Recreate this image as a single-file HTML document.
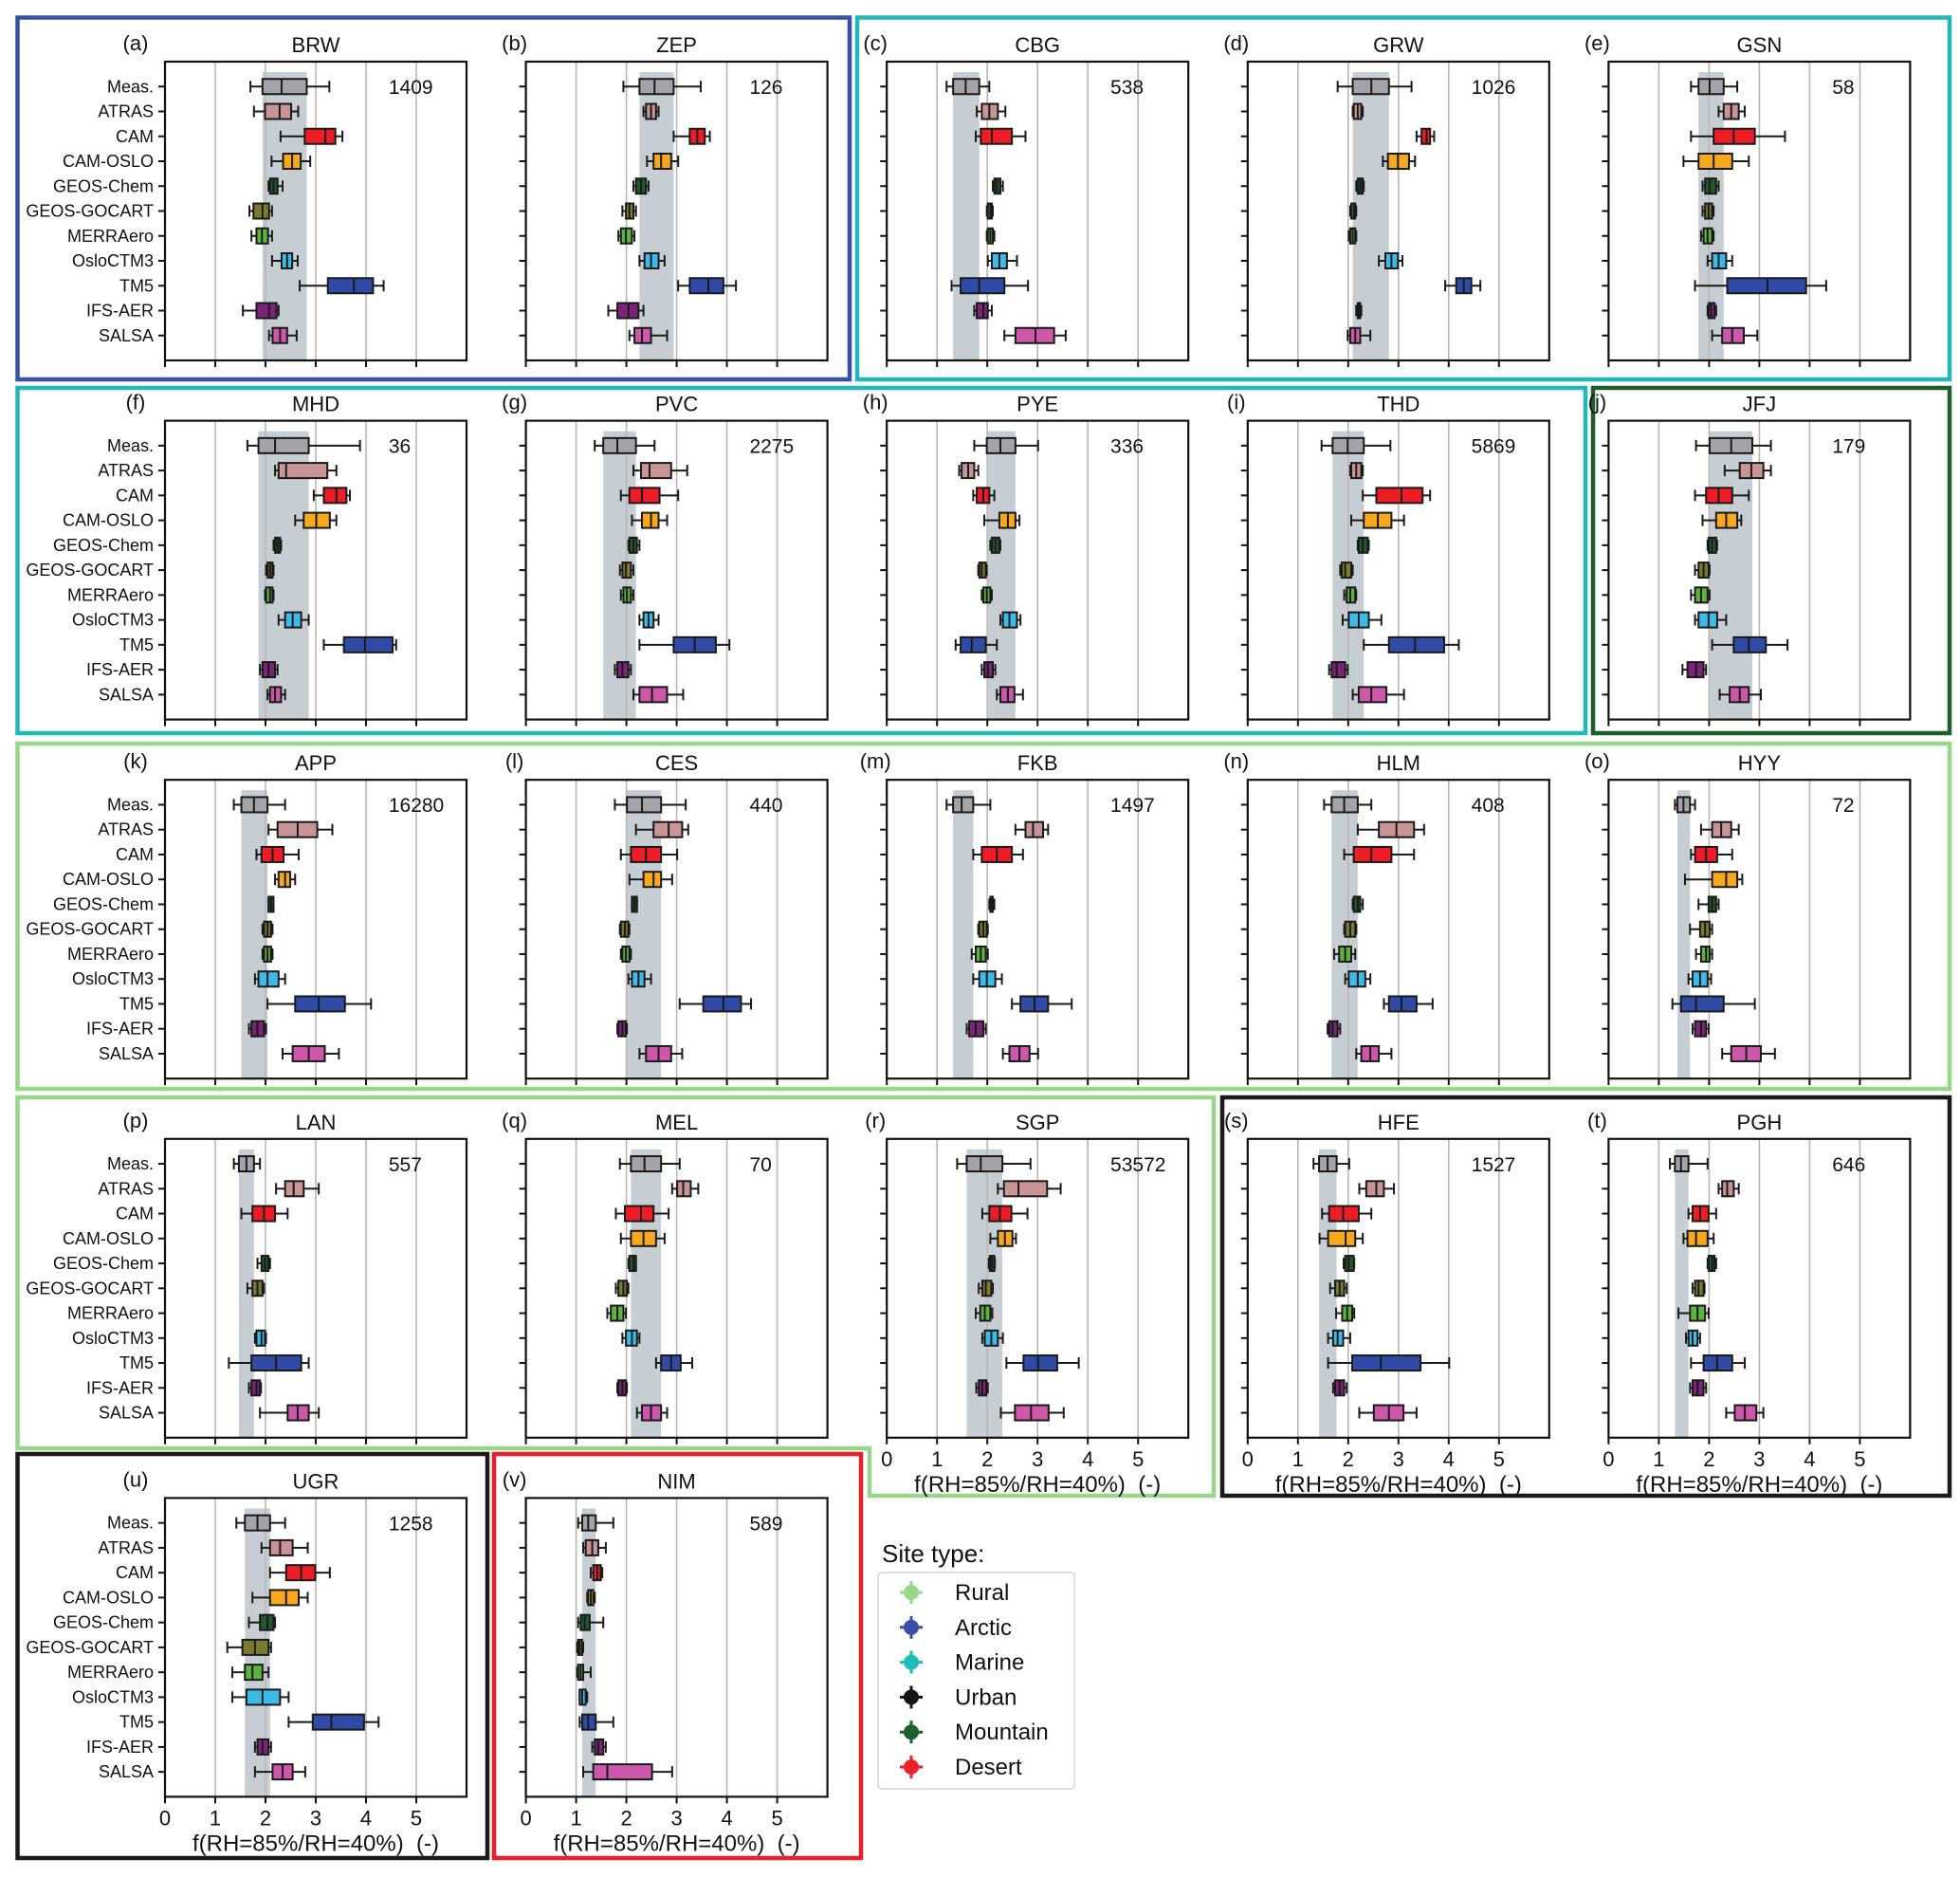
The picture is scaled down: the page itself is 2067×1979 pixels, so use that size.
<!DOCTYPE html>
<html><head><meta charset="utf-8"><title>f(RH) boxplots</title>
<style>html,body{margin:0;padding:0;background:#fff}svg{display:block;font-family:"Liberation Sans","DejaVu Sans",sans-serif}</style>
</head><body>
<svg id="chart" xmlns="http://www.w3.org/2000/svg" width="2067" height="1979" viewBox="0 0 2067 1979"></svg>
<script>
const models = ["Meas.","ATRAS","CAM","CAM-OSLO","GEOS-Chem","GEOS-GOCART","MERRAero","OsloCTM3","TM5","IFS-AER","SALSA"];
const modelColors = ["#a2a4aa","#c99495","#ee1c25","#f7a81c","#1f5a2c","#7b7b2f","#5db33e","#3cbbe8","#2f4ba6","#7b2479","#cd58ab"];
const xTicks = [0,1,2,3,4,5];
// each row: [min, q1, median, q3, max]; null = no data
const BRW=[[1.70,1.94,2.32,2.82,3.27],[1.77,1.99,2.28,2.51,2.65],[2.30,2.78,3.19,3.39,3.53],[2.12,2.35,2.53,2.70,2.89],[2.06,2.09,2.16,2.24,2.34],[1.68,1.76,1.94,2.07,2.13],[1.72,1.82,1.93,2.05,2.13],[2.13,2.32,2.43,2.53,2.64],[2.68,3.24,3.76,4.14,4.35],[1.55,1.82,2.07,2.22,2.26],[2.07,2.14,2.29,2.43,2.62]];
const ZEP=[[1.94,2.26,2.56,2.94,3.48],[2.34,2.39,2.49,2.59,2.64],[2.94,3.26,3.41,3.56,3.66],[2.41,2.54,2.69,2.89,3.03],[2.14,2.19,2.29,2.39,2.44],[1.92,1.99,2.06,2.14,2.19],[1.84,1.89,1.99,2.11,2.16],[2.26,2.36,2.49,2.64,2.76],[3.03,3.26,3.63,3.93,4.18],[1.64,1.82,2.04,2.24,2.34],[2.06,2.16,2.31,2.49,2.81]];
const CBG=[[1.19,1.32,1.57,1.84,2.04],[1.79,1.89,2.04,2.21,2.36],[1.77,1.87,2.09,2.49,2.76],null,[2.11,2.14,2.19,2.26,2.31],[1.99,2.01,2.06,2.09,2.11],[1.99,2.01,2.06,2.11,2.14],[2.01,2.09,2.24,2.39,2.59],[1.29,1.47,1.84,2.34,2.81],[1.74,1.79,1.92,2.01,2.09],[2.34,2.56,2.96,3.33,3.56]];
const GRW=[[1.79,2.09,2.46,2.81,3.26],[2.09,2.11,2.19,2.26,2.29],[3.36,3.46,3.56,3.63,3.71],[2.69,2.79,2.99,3.21,3.33],[2.16,2.19,2.24,2.29,2.31],[2.04,2.06,2.11,2.14,2.16],[2.01,2.04,2.09,2.14,2.16],[2.61,2.74,2.86,2.99,3.08],[3.93,4.15,4.30,4.45,4.63],[2.16,2.19,2.21,2.24,2.26],[1.99,2.04,2.14,2.24,2.44]];
const GSN=[[1.64,1.79,2.01,2.29,2.56],[2.19,2.29,2.44,2.59,2.71],[1.64,2.09,2.49,2.91,3.51],[1.49,1.79,2.09,2.46,2.79],[1.87,1.92,2.01,2.14,2.19],[1.87,1.92,1.99,2.06,2.09],[1.84,1.89,1.97,2.06,2.09],[1.97,2.06,2.19,2.34,2.46],[1.72,2.36,3.16,3.93,4.33],[1.97,1.99,2.04,2.11,2.14],[2.06,2.26,2.46,2.69,2.96]];
const MHD=[[1.64,1.86,2.19,2.86,3.88],[2.19,2.26,2.41,3.23,3.41],[2.96,3.16,3.41,3.61,3.68],[2.59,2.76,3.01,3.28,3.41],[2.16,2.19,2.24,2.29,2.31],[2.01,2.04,2.09,2.14,2.16],[1.99,2.01,2.09,2.14,2.16],[2.26,2.39,2.54,2.71,2.86],[3.16,3.56,3.98,4.53,4.60],[1.89,1.94,2.06,2.19,2.24],[2.04,2.09,2.19,2.31,2.39]];
const PVC=[[1.37,1.54,1.82,2.19,2.56],[2.14,2.29,2.46,2.89,3.21],[1.89,2.06,2.31,2.66,3.03],[2.11,2.31,2.49,2.64,2.81],[2.04,2.06,2.14,2.21,2.26],[1.87,1.92,1.99,2.09,2.14],[1.89,1.94,2.01,2.09,2.14],[2.26,2.34,2.44,2.54,2.64],[2.26,2.94,3.36,3.78,4.05],[1.77,1.82,1.92,2.04,2.09],[2.14,2.26,2.51,2.81,3.13]];
const PYE=[[1.74,1.99,2.26,2.56,3.01],[1.44,1.49,1.62,1.74,1.82],[1.72,1.79,1.92,2.04,2.14],[1.94,2.24,2.41,2.56,2.64],[2.06,2.09,2.16,2.24,2.26],[1.82,1.84,1.89,1.97,1.99],[1.89,1.92,1.99,2.06,2.09],[2.26,2.31,2.44,2.59,2.66],[1.37,1.47,1.69,1.97,2.19],[1.89,1.94,2.01,2.11,2.16],[2.19,2.26,2.41,2.54,2.71]];
const THD=[[1.47,1.69,1.99,2.31,2.84],[2.04,2.06,2.16,2.26,2.29],[2.29,2.56,3.06,3.48,3.63],[2.06,2.31,2.59,2.86,3.11],[2.19,2.21,2.29,2.39,2.41],[1.84,1.87,1.94,2.06,2.09],[1.92,1.97,2.04,2.14,2.16],[1.89,2.01,2.21,2.41,2.66],[2.31,2.81,3.33,3.91,4.20],[1.62,1.67,1.77,1.94,1.99],[2.09,2.21,2.46,2.76,3.11]];
const JFJ=[[1.74,2.01,2.44,2.86,3.23],[2.31,2.61,2.84,3.08,3.23],[1.72,1.94,2.19,2.46,2.79],[1.87,2.14,2.34,2.56,2.64],[1.97,1.99,2.06,2.14,2.16],[1.72,1.79,1.89,1.99,2.01],[1.64,1.72,1.84,1.97,2.01],[1.72,1.79,1.99,2.16,2.34],[2.06,2.49,2.79,3.13,3.56],[1.47,1.57,1.74,1.89,1.94],[2.21,2.41,2.61,2.79,3.03]];
const APP=[[1.37,1.52,1.77,2.04,2.39],[2.06,2.24,2.64,3.03,3.33],[1.82,1.92,2.14,2.36,2.66],[2.19,2.26,2.39,2.49,2.59],[2.06,2.06,2.11,2.16,2.16],[1.94,1.97,2.04,2.11,2.14],[1.94,1.97,2.04,2.11,2.14],[1.79,1.86,2.04,2.26,2.39],[2.04,2.59,3.06,3.58,4.10],[1.67,1.72,1.84,1.97,2.01],[2.34,2.54,2.86,3.18,3.46]];
const CES=[[1.77,2.01,2.31,2.69,3.18],[2.19,2.54,2.84,3.11,3.23],[1.89,2.09,2.39,2.69,3.01],[2.06,2.34,2.54,2.69,2.91],[2.11,2.11,2.16,2.21,2.21],[1.87,1.89,1.97,2.04,2.06],[1.89,1.92,1.99,2.06,2.09],[2.04,2.11,2.24,2.36,2.49],[3.06,3.53,3.93,4.28,4.48],[1.82,1.84,1.92,1.99,2.01],[2.26,2.39,2.64,2.89,3.11]];
const FKB=[[1.19,1.32,1.49,1.72,2.06],[2.56,2.76,2.91,3.11,3.21],[1.72,1.89,2.19,2.49,2.71],null,[2.04,2.06,2.09,2.11,2.14],[1.82,1.84,1.92,1.99,2.01],[1.69,1.77,1.87,1.97,2.01],[1.72,1.84,1.99,2.16,2.29],[2.49,2.66,2.94,3.21,3.68],[1.59,1.64,1.77,1.92,1.97],[2.31,2.44,2.64,2.84,3.01]];
const HLM=[[1.52,1.67,1.92,2.19,2.46],[2.19,2.61,2.96,3.31,3.51],[1.92,2.11,2.46,2.86,3.31],null,[2.09,2.11,2.19,2.24,2.29],[1.92,1.94,2.04,2.14,2.16],[1.72,1.82,1.94,2.06,2.14],[1.94,2.01,2.19,2.34,2.44],[2.71,2.81,3.06,3.36,3.68],[1.59,1.62,1.69,1.79,1.84],[2.16,2.26,2.44,2.61,2.86]];
const HYY=[[1.32,1.37,1.49,1.62,1.72],[1.84,2.06,2.24,2.44,2.59],[1.64,1.72,1.94,2.16,2.46],[1.52,2.06,2.34,2.56,2.66],[1.79,1.99,2.06,2.14,2.19],[1.62,1.82,1.92,2.01,2.06],[1.74,1.84,1.94,2.01,2.06],[1.59,1.67,1.82,1.97,2.04],[1.27,1.44,1.74,2.29,2.91],[1.67,1.72,1.84,1.94,1.99],[2.26,2.44,2.74,3.03,3.31]];
const LAN=[[1.37,1.47,1.62,1.77,1.89],[2.21,2.39,2.56,2.76,3.06],[1.52,1.74,1.97,2.19,2.44],null,[1.84,1.92,1.99,2.06,2.09],[1.64,1.74,1.84,1.94,1.97],null,[1.79,1.82,1.92,1.99,2.01],[1.27,1.72,2.21,2.71,2.86],[1.67,1.72,1.82,1.89,1.91],[1.89,2.44,2.64,2.86,3.06]];
const MEL=[[1.87,2.09,2.36,2.69,3.06],[2.91,3.01,3.13,3.28,3.43],[1.79,1.97,2.29,2.54,2.84],[1.89,2.09,2.34,2.59,2.76],[2.04,2.06,2.14,2.19,2.19],[1.79,1.84,1.94,2.01,2.04],[1.62,1.69,1.82,1.94,1.99],[1.92,1.99,2.11,2.21,2.26],[2.59,2.69,2.89,3.08,3.31],[1.82,1.84,1.92,1.99,2.01],[2.21,2.31,2.49,2.69,2.81]];
const SGP=[[1.40,1.59,1.87,2.30,2.86],[2.21,2.33,2.62,3.19,3.46],[1.90,2.04,2.25,2.48,2.80],[2.06,2.21,2.35,2.50,2.57],[2.03,2.05,2.09,2.14,2.15],[1.83,1.90,1.97,2.08,2.11],[1.77,1.86,1.95,2.06,2.10],[1.90,1.95,2.08,2.21,2.31],[2.38,2.72,3.01,3.39,3.82],[1.78,1.83,1.90,1.98,2.01],[2.27,2.55,2.87,3.22,3.52]];
const HFE=[[1.31,1.42,1.59,1.77,2.02],[2.22,2.36,2.56,2.71,2.91],[1.48,1.62,1.90,2.21,2.46],[1.43,1.60,1.95,2.14,2.29],[1.91,1.94,2.01,2.11,2.12],[1.64,1.74,1.83,1.92,1.97],[1.76,1.88,1.98,2.08,2.12],[1.60,1.70,1.79,1.90,2.04],[1.60,2.08,2.65,3.44,4.01],[1.70,1.74,1.83,1.92,1.97],[2.22,2.51,2.81,3.10,3.36]];
const PGH=[[1.22,1.32,1.44,1.59,1.97],[2.19,2.26,2.36,2.49,2.59],[1.59,1.67,1.82,1.99,2.14],[1.49,1.57,1.74,1.97,2.09],[1.97,1.99,2.06,2.11,2.14],[1.67,1.72,1.79,1.89,1.91],[1.39,1.62,1.77,1.92,1.99],[1.54,1.59,1.67,1.77,1.82],[1.64,1.89,2.16,2.46,2.71],[1.62,1.67,1.77,1.89,1.94],[2.34,2.51,2.71,2.94,3.08]];
const UGR=[[1.42,1.59,1.84,2.09,2.39],[1.92,2.09,2.29,2.54,2.84],[2.09,2.41,2.71,2.99,3.28],[1.74,2.09,2.41,2.66,2.84],[1.67,1.89,2.04,2.16,2.19],[1.24,1.54,1.79,2.06,2.11],[1.34,1.59,1.74,1.94,2.06],[1.34,1.62,1.94,2.29,2.46],[2.46,2.94,3.31,3.96,4.25],[1.79,1.84,1.94,2.06,2.11],[1.79,2.14,2.34,2.54,2.79]];
const NIM=[[1.04,1.12,1.24,1.39,1.74],[1.14,1.19,1.32,1.44,1.59],[1.29,1.34,1.42,1.49,1.52],[1.22,1.24,1.29,1.34,1.37],[1.04,1.09,1.17,1.27,1.54],[1.02,1.04,1.07,1.12,1.14],[1.02,1.04,1.09,1.14,1.29],[1.07,1.07,1.12,1.19,1.22],[1.07,1.12,1.24,1.39,1.74],[1.32,1.37,1.44,1.54,1.59],[1.14,1.34,1.62,2.51,2.91]];
const sampleCounts = {BRW:1409,ZEP:126,CBG:538,GRW:1026,GSN:58,MHD:36,PVC:2275,PYE:336,THD:5869,JFJ:179,APP:16280,CES:440,FKB:1497,HLM:408,HYY:72,LAN:557,MEL:70,SGP:53572,HFE:1527,PGH:646,UGR:1258,NIM:589};
const legendLabels = ["Rural","Arctic","Marine","Urban","Mountain","Desert"];
const legendColors = ["#98d68a","#3a4ea8","#1fbcbc","#151515","#1d6030","#ee2228"];

// layout (not data)
const panels = [
 ["a","BRW",BRW,0,0,false],["b","ZEP",ZEP,1,0,false],["c","CBG",CBG,2,0,false],["d","GRW",GRW,3,0,false],["e","GSN",GSN,4,0,false],
 ["f","MHD",MHD,0,1,false],["g","PVC",PVC,1,1,false],["h","PYE",PYE,2,1,false],["i","THD",THD,3,1,false],["j","JFJ",JFJ,4,1,false],
 ["k","APP",APP,0,2,false],["l","CES",CES,1,2,false],["m","FKB",FKB,2,2,false],["n","HLM",HLM,3,2,false],["o","HYY",HYY,4,2,false],
 ["p","LAN",LAN,0,3,false],["q","MEL",MEL,1,3,false],["r","SGP",SGP,2,3,true],["s","HFE",HFE,3,3,true],["t","PGH",PGH,4,3,true],
 ["u","UGR",UGR,0,4,true],["v","NIM",NIM,1,4,true]
];
const NS="http://www.w3.org/2000/svg";
const svg=document.getElementById('chart');
function mk(tag,attrs,parent){const e=document.createElementNS(NS,tag);for(const k in attrs)e.setAttribute(k,attrs[k]);(parent||svg).appendChild(e);return e;}

const frames=[
 ["arctic-frame","#3a50a2","M18.5,18.5 H896 V400 H18.5 Z"],
 ["marine-frame-top","#22b8b8","M904,18.5 H2056 V400 H904 Z"],
 ["marine-frame-middle","#22b8b8","M18.5,409 H1672 V773 H18.5 Z"],
 ["mountain-frame","#1d5e2c","M1680,409 H2056 V773 H1680 Z"],
 ["rural-frame-row3","#98d68a","M18.5,784 H2056 V1148 H18.5 Z"],
 ["rural-frame-row4","#98d68a","M18.5,1157 H1280 V1577 H917 V1527 H18.5 Z"],
 ["urban-frame-right","#1a1a1a","M1289,1157 H2056 V1577 H1289 Z"],
 ["urban-frame-left","#1a1a1a","M18.5,1533 H514 V1959 H18.5 Z"],
 ["desert-frame","#e8202a","M521,1533 H908 V1959 H521 Z"]
];
frames.forEach(f=>{const p=mk('path',{d:f[2],fill:'none',stroke:f[1],'stroke-width':4.5});

});

const PW=318,PH=315;
panels.forEach(pn=>{
 const [lab,name,data,c,r,showX]=pn;
 const L=174+c*380.6, T=65+r*378.6;
 const g=mk('g',{});
 
 
 const xs=v=>L+v/6*PW;
 const ys=i=>T+(i+1)/12*PH;
 const m=data[0];
 const band=mk('rect',{x:xs(m[1]),y:T+11,width:xs(m[3])-xs(m[1]),height:PH-11,fill:'#c6cdd3'},g);
 
 
 xTicks.slice(1).forEach(t=>{const gl=mk('line',{x1:xs(t),x2:xs(t),y1:T,y2:T+PH,stroke:'#b8b8b8','stroke-width':1.6},g);
  
  });
 data.forEach((d,i)=>{
  if(!d)return;
  const y=ys(i), col=modelColors[i], bg=mk('g',{stroke:'#1a1a1a','stroke-width':2},g);
  
  
  mk('line',{x1:xs(d[0]),x2:xs(d[1]),y1:y,y2:y},bg);
  mk('line',{x1:xs(d[3]),x2:xs(d[4]),y1:y,y2:y},bg);
  mk('line',{x1:xs(d[0]),x2:xs(d[0]),y1:y-6,y2:y+6},bg);
  mk('line',{x1:xs(d[4]),x2:xs(d[4]),y1:y-6,y2:y+6},bg);
  mk('rect',{x:xs(d[1]),y:y-8,width:Math.max(xs(d[3])-xs(d[1]),2),height:16,fill:col},bg);
  mk('line',{x1:xs(d[2]),x2:xs(d[2]),y1:y-8,y2:y+8},bg);
 });
 const ax=mk('rect',{x:L,y:T,width:PW,height:PH,fill:'none',stroke:'#111','stroke-width':2.2},g);
 
 
 models.forEach((mn,i)=>{mk('line',{x1:L-7,x2:L,y1:ys(i),y2:ys(i),stroke:'#111','stroke-width':2},g);
  if(c===0){const t=mk('text',{x:L-12,y:ys(i)+6,'text-anchor':'end','font-size':18,fill:'#111'},g);t.textContent=mn;
   
   }
 });
 xTicks.forEach(t=>{mk('line',{x1:xs(t),x2:xs(t),y1:T+PH,y2:T+PH+7,stroke:'#111','stroke-width':2},g);
  if(showX){const tx=mk('text',{x:xs(t),y:T+PH+30,'text-anchor':'middle','font-size':22,fill:'#111'},g);tx.textContent=t;
   
   }
 });
 if(showX){const xl=mk('text',{x:L+PW*0.5,y:T+PH+57,'text-anchor':'middle','font-size':24,fill:'#111',style:'white-space:pre'},g);xl.textContent='f(RH=85%/RH=40%)  (-)';
  
  }
 const ti=mk('text',{x:L+PW/2,y:T-10,'text-anchor':'middle','font-size':22,fill:'#111'},g);ti.textContent=name;
 
 
 const pl=mk('text',{x:c===0?L-31:L-12,y:T-12,'text-anchor':'middle','font-size':22,fill:'#111'},g);pl.textContent='('+lab+')';
 
 
 const nt=mk('text',{x:xs(4.45),y:T+34,'font-size':21,fill:'#111'},g);nt.textContent=sampleCounts[name];
 
 
});

const lg=mk('g',{});


const lt=mk('text',{x:930,y:1647,'font-size':26,fill:'#111'},lg);lt.textContent='Site type:';


mk('rect',{x:926,y:1658,width:207,height:228,rx:4,fill:'#fff',stroke:'#d6d6d6','stroke-width':1.5},lg);
legendLabels.forEach((s,i)=>{
 const y=1679+i*36.8, eg=mk('g',{},lg);
 
 
 mk('line',{x1:949,x2:973,y1:y,y2:y,stroke:legendColors[i],'stroke-width':3},eg);
 mk('line',{x1:961,x2:961,y1:y-12,y2:y+12,stroke:legendColors[i],'stroke-width':3},eg);
 mk('circle',{cx:961,cy:y,r:8,fill:legendColors[i]},eg);
 const t=mk('text',{x:1007,y:y+8,'font-size':24,fill:'#111'},eg);t.textContent=s;
});
</script>
</body></html>
